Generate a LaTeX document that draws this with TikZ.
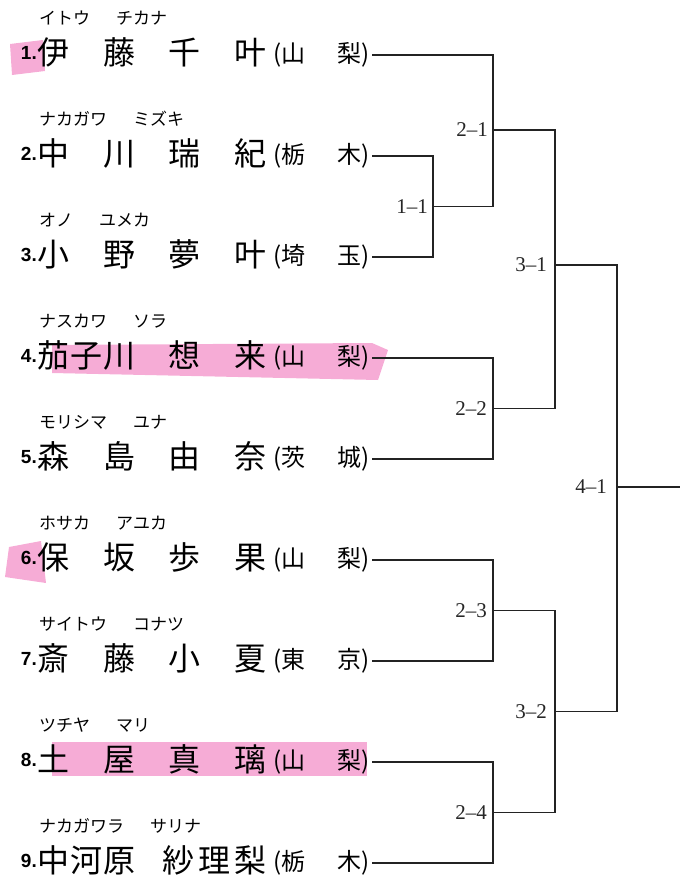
\documentclass[tikz,border=0pt]{standalone}
\usepackage{fontspec}
\newfontfamily\jpfont{Noto Sans CJK JP}
\newfontfamily\numfont{Liberation Sans}
\newfontfamily\rndfont{Liberation Serif}
\usetikzlibrary{positioning}
\definecolor{markpink}{RGB}{246,172,214}
\definecolor{linegray}{RGB}{35,35,35}
\newcommand{\pname}[2]{\makebox[98pt][s]{#1}\hspace{33pt}\makebox[98pt][s]{#2}}
\newcommand{\pref}[2]{(\makebox[80pt][s]{#1\hfill #2})}
\newcommand{\kn}[2]{#1\hspace{26pt}#2}

\begin{document}
\begin{tikzpicture}[x=1pt,y=-1pt,
  every node/.style={inner sep=0pt},
  num/.style={font=\numfont\bfseries\fontsize{19}{19}\selectfont,anchor=east},
  pname/.style={font=\jpfont\fontsize{32}{32}\selectfont,anchor=west},
  pref/.style={font=\jpfont\fontsize{24}{24}\selectfont,anchor=east,inner xsep=2pt},
  kana/.style={font=\jpfont\fontsize{17}{17}\selectfont,anchor=west},
  rnd/.style={font=\rndfont\fontsize{21}{21}\selectfont,text=black!85},
  brk/.style={draw=linegray,line width=1.7pt},
  hilite/.style={fill=markpink,draw=none},
]
\useasboundingbox (0,0) rectangle (686,881);

%% ── Highlighter marks ─────────────────────────────────────────────
\fill[hilite] (10,44) -- (43,40) -- (45,71) -- (12,75) -- cycle;
\fill[hilite] (52,345) -- (372,343) -- (388,350) -- (378,380) -- (52,373) -- cycle;
\fill[hilite] (9,547) -- (41,541) -- (46,583) -- (5,577) -- cycle;
\fill[hilite] (52,742) rectangle (367,776);

%% ── Entries ──────────────────────────────────────────────────────
\node[kana] (k1) at (39,18) {\kn{イトウ}{チカナ}};
\node[num] (n1) at (37,53) {1.};
\node[pname] (p1) at (37,52) {\pname{伊\hfill 藤}{千\hfill 叶}};
\node[pref] (f1) at (372,55) {\pref{山}{梨}};

\node[kana] (k2) at (39,119) {\kn{ナカガワ}{ミズキ}};
\node[num] (n2) at (37,154) {2.};
\node[pname] (p2) at (37,153) {\pname{中\hfill 川}{瑞\hfill 紀}};
\node[pref] (f2) at (372,156) {\pref{栃}{木}};

\node[kana] (k3) at (39,220) {\kn{オノ}{ユメカ}};
\node[num] (n3) at (37,255) {3.};
\node[pname] (p3) at (37,254) {\pname{小\hfill 野}{夢\hfill 叶}};
\node[pref] (f3) at (372,257) {\pref{埼}{玉}};

\node[kana] (k4) at (39,321) {\kn{ナスカワ}{ソラ}};
\node[num] (n4) at (37,356) {4.};
\node[pname] (p4) at (37,355) {\pname{茄\hfill 子\hfill 川}{想\hfill 来}};
\node[pref] (f4) at (372,358) {\pref{山}{梨}};

\node[kana] (k5) at (39,422) {\kn{モリシマ}{ユナ}};
\node[num] (n5) at (37,457) {5.};
\node[pname] (p5) at (37,456) {\pname{森\hfill 島}{由\hfill 奈}};
\node[pref] (f5) at (372,459) {\pref{茨}{城}};

\node[kana] (k6) at (39,523) {\kn{ホサカ}{アユカ}};
\node[num] (n6) at (37,558) {6.};
\node[pname] (p6) at (37,557) {\pname{保\hfill 坂}{歩\hfill 果}};
\node[pref] (f6) at (372,560) {\pref{山}{梨}};

\node[kana] (k7) at (39,624) {\kn{サイトウ}{コナツ}};
\node[num] (n7) at (37,659) {7.};
\node[pname] (p7) at (37,658) {\pname{斎\hfill 藤}{小\hfill 夏}};
\node[pref] (f7) at (372,661) {\pref{東}{京}};

\node[kana] (k8) at (39,725) {\kn{ツチヤ}{マリ}};
\node[num] (n8) at (37,760) {8.};
\node[pname] (p8) at (37,759) {\pname{土\hfill 屋}{真\hfill 璃}};
\node[pref] (f8) at (372,762) {\pref{山}{梨}};

\node[kana] (k9) at (39,826) {\kn{ナカガワラ}{サリナ}};
\node[num] (n9) at (37,861) {9.};
\node[pname] (p9) at (37,860) {\pname{中\hfill 河\hfill 原}{\hspace{-6pt}紗\hfill 理\hfill 梨}};
\node[pref] (f9) at (372,863) {\pref{栃}{木}};

%% ── Match points ─────────────────────────────────────────────────
\coordinate (m11) at (433,206.5);
\coordinate (m21) at (493,130);
\coordinate (m22) at (493,408.5);
\coordinate (m23) at (493,610.5);
\coordinate (m24) at (493,812.5);
\coordinate (m31) at (555,265);
\coordinate (m32) at (555,711.5);
\coordinate (m41) at (617,487);
\coordinate (win) at (680,487);

\node[rnd,left=5pt of m11] (l11) {1\textendash 1};
\node[rnd,left=5pt of m21] (l21) {2\textendash 1};
\node[rnd,left=6pt of m22] (l22) {2\textendash 2};
\node[rnd,left=6pt of m23] (l23) {2\textendash 3};
\node[rnd,left=6pt of m24] (l24) {2\textendash 4};
\node[rnd,left=8pt of m31] (l31) {3\textendash 1};
\node[rnd,left=8pt of m32] (l32) {3\textendash 2};
\node[rnd,left=10pt of m41] (l41) {4\textendash 1};

%% ── Bracket lines ────────────────────────────────────────────────
\draw[brk] (f2.east) -| (m11) |- (f3.east);
\draw[brk] (f1.east) -| (m21) |- (m11);
\draw[brk] (f4.east) -| (m22) |- (f5.east);
\draw[brk] (f6.east) -| (m23) |- (f7.east);
\draw[brk] (f8.east) -| (m24) |- (f9.east);
\draw[brk] (m21) -| (m31) |- (m22);
\draw[brk] (m23) -| (m32) |- (m24);
\draw[brk] (m31) -| (m41) |- (m32);
\draw[brk] (m41) -- (win);

\end{tikzpicture}
\end{document}
